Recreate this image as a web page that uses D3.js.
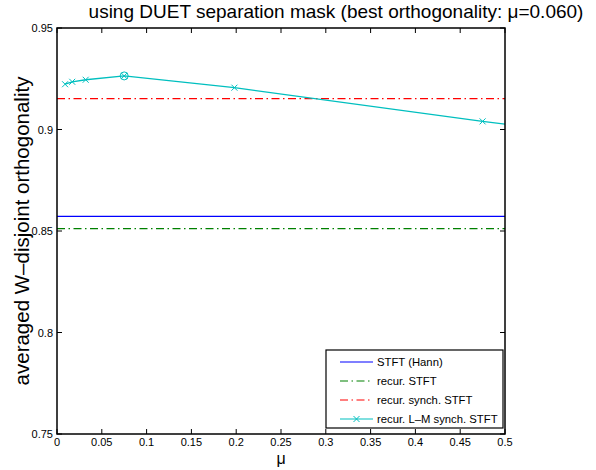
<!DOCTYPE html>
<html>
<head>
<meta charset="utf-8">
<script src="https://cdn.jsdelivr.net/npm/d3@7"></script>
<style>
  body { margin: 0; background: #fff; }
  text { font-family: "Liberation Sans", Arial, sans-serif; }
</style>
</head>
<body>
<svg id="chart" width="596" height="470"></svg>
<script>
// constant reference levels
const stftHann = 0.8572;
const recurStft = 0.8512;
const recurSynch = 0.9152;

// recur. L-M synch. STFT curve
const muVals = [0.009, 0.017, 0.032, 0.075, 0.198, 0.475, 0.5];
const lmVals = [0.9223, 0.9235, 0.9245, 0.9264, 0.9206, 0.9040, 0.9026];
const hasMarker = [true, true, true, true, true, true, false];
const bestIdx = 3;

const xTicks = [0, 0.05, 0.1, 0.15, 0.2, 0.25, 0.3, 0.35, 0.4, 0.45, 0.5];
const yTicks = [0.75, 0.8, 0.85, 0.9, 0.95];

const dashDot = "8,3.5,1.5,3.5";
const legendItems = [
  { label: "STFT (Hann)", color: "#0000ff", dash: null, marker: false },
  { label: "recur. STFT", color: "#008000", dash: dashDot, marker: false },
  { label: "recur. synch. STFT", color: "#ff0000", dash: dashDot, marker: false },
  { label: "recur. L\u2013M synch. STFT", color: "#00bfbf", dash: null, marker: true }
];

const svg = d3.select("#chart");
const pL = 57, pR = 505, pT = 28, pB = 434;

const x = d3.scaleLinear().domain([0, 0.5]).range([pL, pR]);
const y = d3.scaleLinear().domain([0.75, 0.95]).range([pB, pT]);

svg.append("defs").append("clipPath").attr("id", "clip")
  .append("rect").attr("x", pL).attr("y", pT)
  .attr("width", pR - pL).attr("height", pB - pT);

const plot = svg.append("g").attr("clip-path", "url(#clip)");

// horizontal reference lines
function hline(v, color, dash) {
  plot.append("line")
    .attr("x1", x(0)).attr("x2", x(0.5))
    .attr("y1", y(v)).attr("y2", y(v))
    .attr("stroke", color).attr("stroke-width", 1.2)
    .attr("stroke-dasharray", dash);
}
hline(stftHann, "#0000ff", null);
hline(recurStft, "#008000", dashDot);
hline(recurSynch, "#ff0000", dashDot);

// cyan curve
const pts = muVals.map((m, i) => [m, lmVals[i]]);
plot.append("path")
  .attr("d", d3.line().x(d => x(d[0])).y(d => y(d[1]))(pts))
  .attr("fill", "none").attr("stroke", "#00bfbf").attr("stroke-width", 1.3);

function cross(g, cx, cy, color) {
  const s = 3;
  g.append("path")
    .attr("d", `M${cx - s},${cy - s}L${cx + s},${cy + s}M${cx - s},${cy + s}L${cx + s},${cy - s}`)
    .attr("stroke", color).attr("stroke-width", 1).attr("fill", "none");
}
pts.forEach((d, i) => {
  if (hasMarker[i]) cross(plot, x(d[0]), y(d[1]), "#00bfbf");
});
plot.append("circle")
  .attr("cx", x(muVals[bestIdx])).attr("cy", y(lmVals[bestIdx])).attr("r", 4)
  .attr("fill", "none").attr("stroke", "#00bfbf").attr("stroke-width", 1);

// axes box and ticks (inside)
const axes = svg.append("g");
axes.append("rect").attr("x", pL).attr("y", pT)
  .attr("width", pR - pL).attr("height", pB - pT)
  .attr("fill", "none").attr("stroke", "#000").attr("stroke-width", 1.5);

const tl = 5;
xTicks.forEach(t => {
  axes.append("line").attr("x1", x(t)).attr("x2", x(t))
    .attr("y1", pB).attr("y2", pB - tl).attr("stroke", "#000");
  axes.append("line").attr("x1", x(t)).attr("x2", x(t))
    .attr("y1", pT).attr("y2", pT + tl).attr("stroke", "#000");
  axes.append("text").attr("x", x(t)).attr("y", pB + 12)
    .attr("text-anchor", "middle").attr("font-size", 11).text(t);
});
yTicks.forEach(t => {
  axes.append("line").attr("x1", pL).attr("x2", pL + tl)
    .attr("y1", y(t)).attr("y2", y(t)).attr("stroke", "#000");
  axes.append("line").attr("x1", pR).attr("x2", pR - tl)
    .attr("y1", y(t)).attr("y2", y(t)).attr("stroke", "#000");
  axes.append("text").attr("x", pL - 4).attr("y", y(t) + 4)
    .attr("text-anchor", "end").attr("font-size", 11).text(t);
});

// labels
svg.append("text").attr("x", 336).attr("y", 18)
  .attr("text-anchor", "middle").attr("font-size", 19)
  .text("using DUET separation mask (best orthogonality: \u03bc=0.060)");
svg.append("text").attr("x", (pL + pR) / 2).attr("y", 464)
  .attr("text-anchor", "middle").attr("font-size", 16).text("\u03bc");
svg.append("text")
  .attr("transform", `translate(29,${(pT + pB) / 2}) rotate(-90)`)
  .attr("text-anchor", "middle").attr("font-size", 20.5)
  .text("averaged W\u2013disjoint orthogonality");

// legend
const lg = svg.append("g");
const lx = 326, ly = 350, lw = 177, lh = 78;
lg.append("rect").attr("x", lx).attr("y", ly).attr("width", lw).attr("height", lh)
  .attr("fill", "#fff").attr("stroke", "#000").attr("stroke-width", 1.2);
legendItems.forEach((it, i) => {
  const yy = ly + 12 + i * 19;
  lg.append("line").attr("x1", lx + 14).attr("x2", lx + 47)
    .attr("y1", yy).attr("y2", yy)
    .attr("stroke", it.color).attr("stroke-width", 1.2)
    .attr("stroke-dasharray", it.dash);
  if (it.marker) cross(lg, lx + 30.5, yy, it.color);
  lg.append("text").attr("x", lx + 51).attr("y", yy + 4)
    .attr("font-size", 11.3).text(it.label);
});
</script>
</body>
</html>
